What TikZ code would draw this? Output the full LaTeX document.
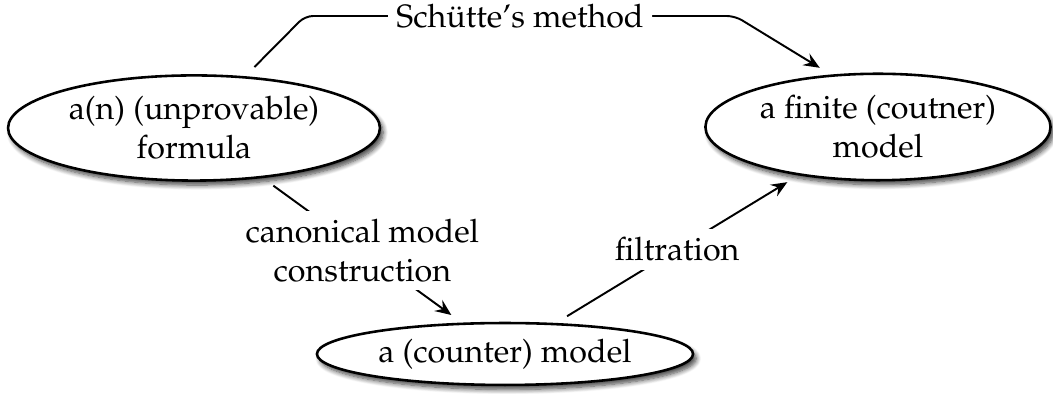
\documentclass[tikz,border=0pt]{standalone}
\usepackage[T1]{fontenc}
\usepackage{mathpazo}
\usetikzlibrary{arrows.meta,shapes.geometric,shadows.blur}

\begin{document}
\begin{tikzpicture}[x=0.31pt, y=-0.31pt,
	state/.style={ellipse, draw, line width=0.8pt, fill=white, inner sep=0pt, align=center,
		blur shadow={shadow xshift=1pt, shadow yshift=-1.4pt, shadow blur radius=1.5pt, shadow blur steps=8, shadow opacity=75}},
	link/.style={semithick, shorten <=4pt, shorten >=4pt},
	tip/.style={-{Stealth[length=5pt, width=4.2pt, inset=1.8pt]}},
	lbl/.style={fill=white, inner sep=2.6pt, align=center}]
	%%%%% START %%%%%
	\useasboundingbox (0, 0) rectangle (1053, 394);

	\node[state, minimum width=115.3pt, minimum height=32.6pt] (formula) at (194, 128) {a(n) (unprovable)\\formula};
	\node[state, minimum width=107pt, minimum height=33pt] (finite) at (878, 127) {a finite (coutner)\\model};
	\node[state, minimum width=116.6pt, minimum height=19.2pt] (counter) at (505, 354) {a (counter) model};

	\coordinate (bendL) at (305, 16);
	\coordinate (bendR) at (735, 16);

	\draw[link, tip, rounded corners=2.5pt] (formula) -- (bendL) -- node[lbl] {Sch\"utte's method} (bendR) -- (finite.132);
	\draw[link, tip] (formula) -- node[lbl] {canonical model\\construction} (counter);
	\draw[link, tip] (counter) -- node[lbl] {filtration} (finite);

	%%%%% END %%%%%
\end{tikzpicture}
\end{document}
